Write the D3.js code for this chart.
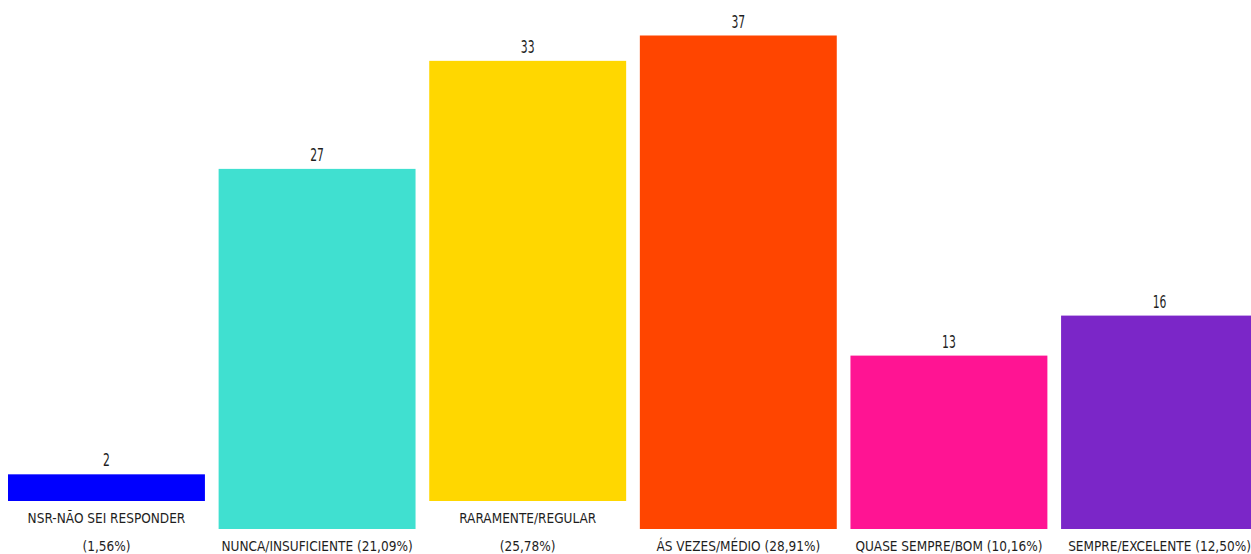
<!DOCTYPE html>
<html>
<head>
<meta charset="utf-8">
<script src="https://cdn.jsdelivr.net/npm/d3@7"></script>
<style>
  html, body { margin: 0; padding: 0; background: #ffffff; }
  svg { display: block; }
  text { font-family: "DejaVu Sans", sans-serif; fill: #1e1e1e; }
</style>
</head>
<body>
<svg id="chart" width="1251" height="554"></svg>
<script>
// Response categories (label lines as shown under each bar)
const categories = [
  "NSR-NÃO SEI RESPONDER",
  "NUNCA/INSUFICIENTE",
  "RARAMENTE/REGULAR",
  "ÁS VEZES/MÉDIO",
  "QUASE SEMPRE/BOM",
  "SEMPRE/EXCELENTE"
];
const counts = [2, 27, 33, 37, 13, 16];
const percents = ["1,56%", "21,09%", "25,78%", "28,91%", "10,16%", "12,50%"];
// Labels that break onto a second line
const wrapped = [true, false, true, false, false, false];
const colors = ["#0000ff", "#40e0d0", "#ffd700", "#ff4500", "#ff1493", "#7b26c8"];

const svg = d3.select("#chart");

const baseline = 529;      // bottom of bars with single-line labels
const lineStep = 28;       // height of one label line
const x = d3.scaleBand().domain(categories).range([8, 1258]).paddingInner(0.065).paddingOuter(0);
const h = d3.scaleLinear().domain([0, 37]).range([0, 493.5]);

const rows = categories.map((c, i) => ({
  cat: c, value: counts[i], pct: percents[i], wrap: wrapped[i], color: colors[i],
  bottom: baseline - (wrapped[i] ? lineStep : 0)
}));

const textScaleX = 0.9;
const valueScaleX = 0.6;

const g = svg.append("g");

g.selectAll("rect.bar").data(rows).join("rect")
  .attr("class", "bar")
  .attr("x", d => x(d.cat))
  .attr("width", x.bandwidth())
  .attr("y", d => d.bottom - h(d.value))
  .attr("height", d => h(d.value))
  .attr("fill", d => d.color);

// Value labels above the bars
g.selectAll("text.value").data(rows).join("text")
  .attr("class", "value")
  .attr("text-anchor", "middle")
  .attr("font-size", 18)
  .attr("transform", d => `translate(${x(d.cat) + x.bandwidth() / 2},${d.bottom - h(d.value) - 8}) scale(${valueScaleX},1)`)
  .text(d => d.value);

// Category labels under the bars
const lab = g.selectAll("g.label").data(rows).join("g").attr("class", "label");
lab.each(function (d) {
  const cx = x(d.cat) + x.bandwidth() / 2;
  const lines = d.wrap ? [d.cat, `(${d.pct})`] : [`${d.cat} (${d.pct})`];
  lines.forEach((ln, k) => {
    d3.select(this).append("text")
      .attr("text-anchor", "middle")
      .attr("font-size", 13.5)
      .attr("transform", `translate(${cx},${d.bottom + 21.5 + k * lineStep}) scale(${textScaleX},1)`)
      .text(ln);
  });
});
</script>
</body>
</html>
